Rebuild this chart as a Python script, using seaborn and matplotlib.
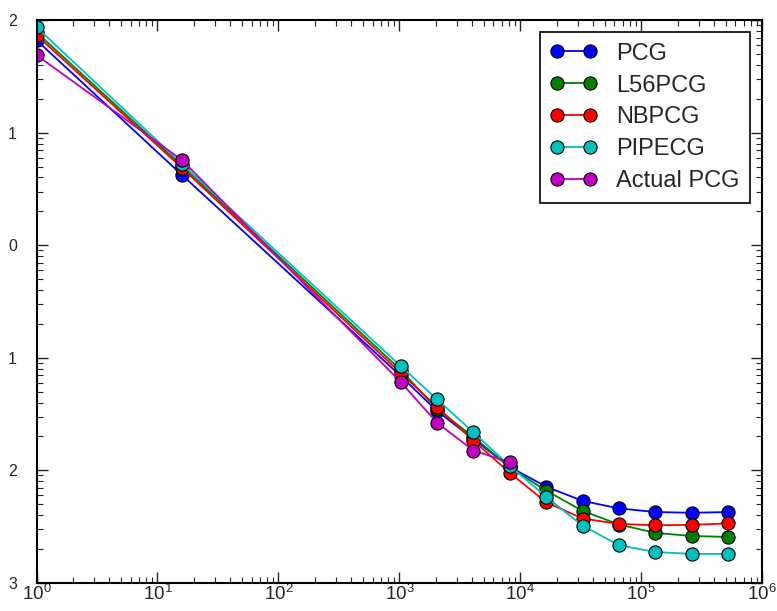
import numpy as np
import pandas as pd
import matplotlib
matplotlib.use("Agg")
import matplotlib.pyplot as plt
import seaborn as sns

x_vals = [1, 16, 1024, 2048, 4096, 8192, 16384, 32768, 65536, 131072, 262144, 524288]
pcg = [66.4, 4.2, 0.069, 0.0337, 0.0190, 0.0107, 0.00715, 0.00535, 0.00459, 0.00426, 0.0042, 0.00426]
l56pcg = [78.0, 5.05, 0.078, 0.0351, 0.0198, 0.0106, 0.00659, 0.00436, 0.0033, 0.00278, 0.00261, 0.00256]
nbpcg = [73.6, 4.85, 0.0733, 0.0366, 0.0184, 0.00948, 0.0052, 0.00373, 0.00334, 0.00325, 0.00328, 0.00338]
pipecg = [86.7, 5.26, 0.0845, 0.0428, 0.0217, 0.01094, 0.00581, 0.00322, 0.00216, 0.00188, 0.00181, 0.00181]
actual_x = [1, 16, 1024, 2048, 4096, 8192]
actual_pcg = [48.9, 5.7, 0.061, 0.0265, 0.0150, 0.01178]

series_names = ["PCG", "L56PCG", "NBPCG", "PIPECG", "Actual PCG"]
series_colors = ["#0000ff", "#007f00", "#ff0000", "#00bfbf", "#bf00bf"]
y_tick_vals = [1e2, 1e1, 1e0, 1e-1, 1e-2, 1e-3]
y_tick_text = ["2", "1", "0", "1", "2", "3"]

sns.set_style("ticks")
plt.rcParams["font.family"] = ["Liberation Sans", "DejaVu Sans"]
plt.rcParams["mathtext.fontset"] = "custom"
plt.rcParams["mathtext.rm"] = "Liberation Sans"
plt.rcParams["mathtext.it"] = "Liberation Sans:italic"

frames = []
for name, ys in zip(series_names[:4], [pcg, l56pcg, nbpcg, pipecg]):
    frames.append(pd.DataFrame({"x": x_vals, "y": ys, "solver": name}))
frames.append(pd.DataFrame({"x": actual_x, "y": actual_pcg, "solver": "Actual PCG"}))
df = pd.concat(frames, ignore_index=True)

fig = plt.figure(figsize=(7.77, 6.11), dpi=100)
ax = fig.add_axes([0.047, 0.046, 0.934, 0.921])

for name, col in zip(series_names, series_colors):
    sub = df[df["solver"] == name]
    sns.lineplot(data=sub, x="x", y="y", ax=ax, color=col, label=name,
                 marker="o", markersize=9.5, markeredgecolor="black",
                 markeredgewidth=0.8, linewidth=1.3)

ax.set_xscale("log")
ax.set_yscale("log")
ax.set_xlim(1, 1e6)
ax.set_ylim(1e-3, 1e2)
ax.set_xlabel("")
ax.set_ylabel("")

ax.set_yticks(y_tick_vals)
ax.set_yticklabels(y_tick_text)
ax.tick_params(which="both", direction="in", top=True, right=True)
ax.tick_params(which="major", length=8, width=1)
ax.tick_params(which="minor", length=4, width=0.8)
ax.tick_params(axis="x", labelsize=13.5, pad=1)
ax.tick_params(axis="y", labelsize=11.5, pad=14)
for sp in ax.spines.values():
    sp.set_linewidth(1.5)
    sp.set_color("black")

leg = ax.legend(loc="upper right", numpoints=2, fontsize=17, fancybox=False,
                framealpha=1, edgecolor="black", handlelength=2.0,
                handletextpad=0.8, borderaxespad=0.5, labelspacing=0.42,
                borderpad=0.45)
leg.get_frame().set_linewidth(1.2)

fig.savefig("out.png", dpi=100)
